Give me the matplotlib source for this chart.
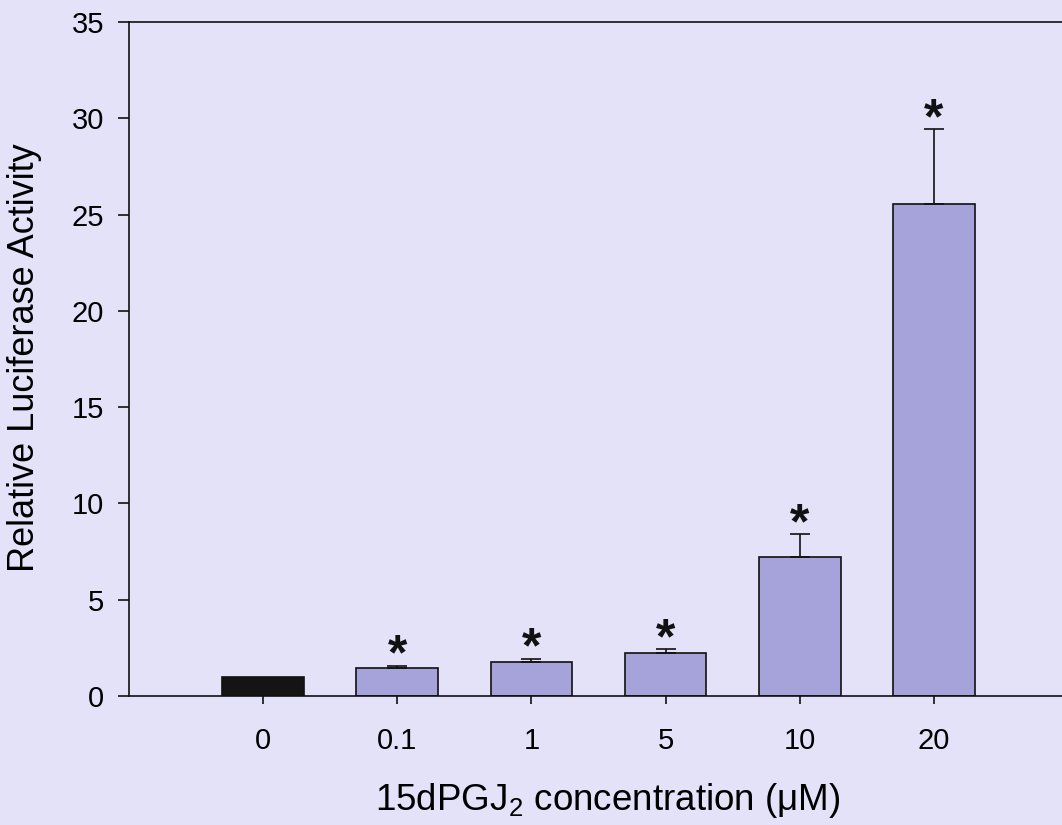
import matplotlib
matplotlib.use("Agg")
import matplotlib.pyplot as plt
import numpy as np

categories = ["0", "0.1", "1", "5", "10", "20"]
values = [1.0, 1.45, 1.75, 2.23, 7.23, 25.56]
errors = [0.0, 0.12, 0.19, 0.21, 1.16, 3.88]
significant = [False, True, True, True, True, True]
yticks = [0, 5, 10, 15, 20, 25, 30, 35]

bg = "#E4E2F9"
bar_color = "#A6A2DA"
ctrl_color = "#141414"

plt.rcParams['font.family'] = ['Liberation Sans', 'DejaVu Sans']
plt.rcParams['mathtext.fontset'] = 'custom'
plt.rcParams['mathtext.rm'] = 'Liberation Sans'

fig = plt.figure(figsize=(10.62, 8.25), dpi=100, facecolor=bg)
ax = fig.add_axes([129/1062, 129/825, (1068-129)/1062, (696-22)/825], facecolor=bg)

x = np.arange(len(categories))
colors = [ctrl_color] + [bar_color] * (len(categories) - 1)
ax.bar(x, values, width=0.61, color=colors, edgecolor="#111111", linewidth=1.2, zorder=2)
ax.errorbar(x[1:], values[1:], yerr=[np.zeros(len(x) - 1), errors[1:]], fmt="none",
            ecolor="#111111", elinewidth=1.2, capsize=7.5, capthick=1.2, zorder=3)

for xi, v, e, s in zip(x, values, errors, significant):
    if s:
        ax.annotate("*", xy=(xi, v + e), xytext=(0, -10), textcoords="offset points",
                    ha="center", va="bottom", fontsize=36, fontweight="bold", color="#111111")

ax.set_xlim(-1.0, 6.0)
ax.set_ylim(0, 35)
ax.set_xticks(x)
ax.set_xticklabels(categories)
ax.set_yticks(yticks)
ax.tick_params(axis="both", which="major", labelsize=21, width=1.2, color="#111111",
               direction="out")
ax.tick_params(axis="y", length=8, pad=10)
ax.tick_params(axis="x", length=6, pad=16)

for side in ["left", "top", "bottom"]:
    ax.spines[side].set_linewidth(1.2)
    ax.spines[side].set_color("#111111")
ax.spines["right"].set_visible(False)

fig.text(25/1062, 1 - 358/825, "Relative Luciferase Activity", fontsize=26,
         rotation=90, ha="center", va="center")
fig.text(608/1062, 1 - 800/825, r"15dPGJ$_\mathrm{2}$ concentration (μM)", fontsize=26.5,
         ha="center", va="center")

fig.savefig("out.png", dpi=100, facecolor=bg)
